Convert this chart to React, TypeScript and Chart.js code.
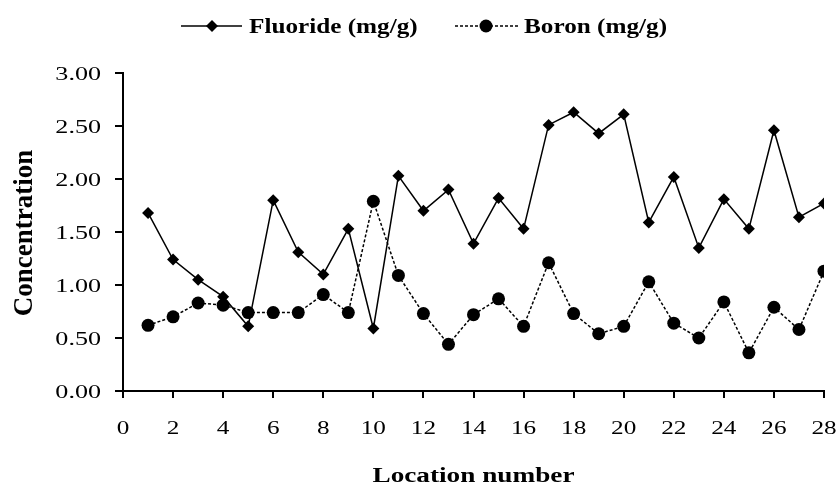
import React, { useEffect, useRef } from "react";
import { Chart, registerables } from "chart.js";

Chart.register(...registerables);

const locations = [1, 2, 3, 4, 5, 6, 7, 8, 9, 10, 11, 12, 13, 14, 15, 16, 17, 18, 19, 20, 21, 22, 23, 24, 25, 26, 27, 28];
const fluoride = [1.68, 1.24, 1.05, 0.89, 0.61, 1.8, 1.31, 1.1, 1.53, 0.59, 2.03, 1.7, 1.9, 1.39, 1.82, 1.53, 2.51, 2.63, 2.43, 2.61, 1.59, 2.02, 1.35, 1.81, 1.53, 2.46, 1.64, 1.77];
const boron = [0.62, 0.7, 0.83, 0.81, 0.74, 0.74, 0.74, 0.91, 0.74, 1.79, 1.09, 0.73, 0.44, 0.72, 0.87, 0.61, 1.21, 0.73, 0.54, 0.61, 1.03, 0.64, 0.5, 0.84, 0.36, 0.79, 0.58, 1.13];
const seriesNames = ["Fluoride (mg/g)", "Boron (mg/g)"];
const xTitle = "Location number";
const yTitle = "Concentration";

const FONT = "'Liberation Serif', 'Times New Roman', serif";

function drawScaled(
  ctx: CanvasRenderingContext2D,
  text: string,
  x: number,
  y: number,
  font: string,
  sx: number,
  align: CanvasTextAlign,
  rot = 0
) {
  ctx.save();
  ctx.translate(x, y);
  if (rot) ctx.rotate(rot);
  ctx.scale(sx, 1);
  ctx.font = font;
  ctx.textAlign = align;
  ctx.textBaseline = "alphabetic";
  ctx.fillStyle = "#000";
  ctx.fillText(text, 0, 0);
  ctx.restore();
}

const textPlugin = {
  id: "customText",
  afterDraw(chart: any) {
    const ctx: CanvasRenderingContext2D = chart.ctx;
    ctx.save();
    const y = 26;
    ctx.strokeStyle = "#000";
    ctx.fillStyle = "#000";
    // Legend: Fluoride
    ctx.lineWidth = 1.5;
    ctx.setLineDash([]);
    ctx.beginPath();
    ctx.moveTo(181, y);
    ctx.lineTo(242, y);
    ctx.stroke();
    ctx.beginPath();
    ctx.moveTo(212, y - 6);
    ctx.lineTo(218, y);
    ctx.lineTo(212, y + 6);
    ctx.lineTo(206, y);
    ctx.closePath();
    ctx.fill();
    // Legend: Boron
    ctx.setLineDash([3, 2]);
    ctx.beginPath();
    ctx.moveTo(455, y);
    ctx.lineTo(518, y);
    ctx.stroke();
    ctx.setLineDash([]);
    ctx.beginPath();
    ctx.arc(486, y, 6.5, 0, Math.PI * 2);
    ctx.fill();
    const legFont = "bold 20px " + FONT;
    drawScaled(ctx, seriesNames[0], 249, 33, legFont, 1.26, "left");
    drawScaled(ctx, seriesNames[1], 524, 33, legFont, 1.26, "left");

    // Tick labels
    const xs = chart.scales.x;
    const ys = chart.scales.y;
    const tickFont = "18px " + FONT;
    ys.ticks.forEach((t: any) => {
      const py = ys.getPixelForValue(t.value);
      drawScaled(ctx, Number(t.value).toFixed(2), 101, py + 7, tickFont, 1.45, "right");
    });
    xs.ticks.forEach((t: any) => {
      const px = xs.getPixelForValue(t.value);
      drawScaled(ctx, String(t.value), px, 434, tickFont, 1.4, "center");
    });

    // Axis titles
    const titleFont = "bold 20px " + FONT;
    ctx.font = titleFont;
    const wX = ctx.measureText(xTitle).width;
    drawScaled(ctx, xTitle, (xs.left + xs.right) / 2, 482, titleFont, 202 / wX, "center");
    drawScaled(ctx, yTitle, 32, 233, "bold 27px " + FONT, 1, "center", -Math.PI / 2);
    ctx.restore();
  },
};

export default function App() {
  const ref = useRef<HTMLCanvasElement>(null);
  useEffect(() => {
    if (!ref.current) return;
    const chart = new Chart(ref.current, {
      type: "line",
      data: {
        datasets: [
          {
            label: seriesNames[0],
            data: locations.map((x, i) => ({ x, y: fluoride[i] })),
            borderColor: "#000",
            backgroundColor: "#000",
            borderWidth: 1.5,
            pointStyle: "rectRot",
            pointRadius: 6,
            pointBorderWidth: 0,
            tension: 0,
          },
          {
            label: seriesNames[1],
            data: locations.map((x, i) => ({ x, y: boron[i] })),
            borderColor: "#000",
            backgroundColor: "#000",
            borderWidth: 1.5,
            borderDash: [3, 2],
            pointStyle: "circle",
            pointRadius: 6.5,
            pointBorderWidth: 0,
            tension: 0,
          },
        ],
      },
      options: {
        responsive: false,
        animation: false,
        layout: { padding: { left: 0, top: 73, right: 14, bottom: 0 } },
        plugins: { legend: { display: false }, tooltip: { enabled: false } },
        scales: {
          x: {
            type: "linear",
            min: 0,
            max: 28,
            afterFit(scale: any) {
              scale.height = 95;
            },
            ticks: {
              stepSize: 2,
              color: "rgba(0,0,0,0)",
              font: { family: FONT, size: 18 },
              padding: 3,
            },
            grid: { drawOnChartArea: false, drawTicks: true, tickLength: 7, color: "#000", lineWidth: 2 },
            border: { color: "#000", width: 2 },
          },
          y: {
            min: 0,
            max: 3,
            afterFit(scale: any) {
              scale.width = 123;
            },
            ticks: {
              stepSize: 0.5,
              color: "rgba(0,0,0,0)",
              font: { family: FONT, size: 18 },
              padding: 14,
              callback: (v: any) => Number(v).toFixed(2),
            },
            grid: { drawOnChartArea: false, drawTicks: true, tickLength: 8, color: "#000", lineWidth: 2 },
            border: { color: "#000", width: 2 },
          },
        },
      },
      plugins: [textPlugin],
    });
    return () => chart.destroy();
  }, []);
  return (
    <div style={{ position: "absolute", left: 0, top: 0, width: 838, height: 486, background: "#fff" }}>
      <canvas ref={ref} width={838} height={486} />
    </div>
  );
}
